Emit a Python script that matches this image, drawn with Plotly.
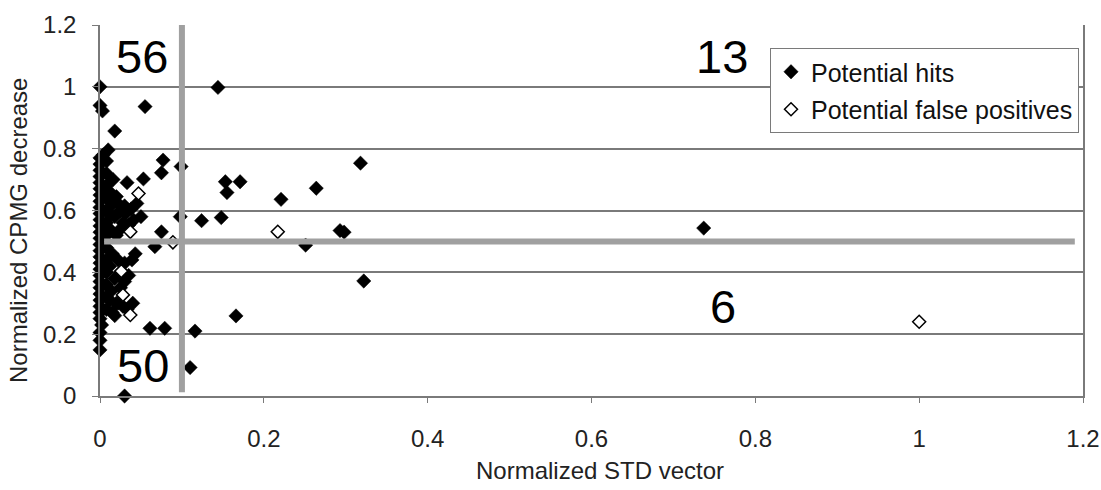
import plotly.graph_objects as go

# Potential hits (filled diamonds)
hit_x = [
    0.000, 0.000, 0.003, 0.055, 0.018, 0.010, 0.004, 0.077, 0.075, 0.099,
    0.033, 0.053, 0.045, 0.022, 0.031, 0.041, 0.035, 0.075, 0.098,
    0.000, 0.000, 0.000, 0.000, 0.000, 0.000, 0.000, 0.000, 0.000, 0.000,
    0.000, 0.000, 0.000, 0.000,
    0.008, 0.008, 0.008, 0.008, 0.008, 0.008, 0.008,
    0.012, 0.015, 0.018, 0.012, 0.020, 0.025, 0.028, 0.020, 0.016, 0.025,
    0.030, 0.012, 0.050, 0.038,
    0.067, 0.039, 0.043, 0.030, 0.022, 0.061, 0.079, 0.030, 0.000, 0.000,
    0.000, 0.002, 0.000,
    0.000, 0.000, 0.000, 0.000, 0.000, 0.000, 0.000, 0.000, 0.000, 0.000,
    0.000, 0.000,
    0.008, 0.008, 0.008, 0.008, 0.008, 0.008,
    0.015, 0.012, 0.018, 0.014, 0.020, 0.015, 0.025, 0.030, 0.022, 0.028,
    0.012, 0.018, 0.035, 0.040, 0.033,
    0.144, 0.318, 0.153, 0.171, 0.155, 0.264, 0.221, 0.124, 0.148, 0.293,
    0.298, 0.737,
    0.251, 0.322, 0.116, 0.166, 0.110,
]
hit_y = [
    1.000, 0.940, 0.922, 0.936, 0.857, 0.796, 0.780, 0.763, 0.722, 0.742,
    0.690, 0.702, 0.623, 0.623, 0.590, 0.569, 0.553, 0.531, 0.580,
    0.770, 0.750, 0.730, 0.710, 0.690, 0.670, 0.650, 0.630, 0.610, 0.590,
    0.570, 0.550, 0.530, 0.510,
    0.760, 0.720, 0.680, 0.640, 0.600, 0.560, 0.520,
    0.660, 0.620, 0.580, 0.540, 0.520, 0.600, 0.560, 0.645, 0.700, 0.540,
    0.615, 0.585, 0.580, 0.605,
    0.483, 0.440, 0.460, 0.430, 0.300, 0.219, 0.219, 0.000, 0.149, 0.180,
    0.205, 0.230, 0.250,
    0.270, 0.290, 0.310, 0.330, 0.350, 0.370, 0.390, 0.410, 0.430, 0.450,
    0.470, 0.490,
    0.280, 0.320, 0.360, 0.400, 0.440, 0.480,
    0.460, 0.420, 0.380, 0.340, 0.300, 0.270, 0.350, 0.370, 0.440, 0.290,
    0.310, 0.260, 0.390, 0.300, 0.280,
    0.998, 0.753, 0.693, 0.693, 0.658, 0.672, 0.636, 0.567, 0.577, 0.535,
    0.530, 0.543,
    0.488, 0.372, 0.210, 0.259, 0.092,
]

# Potential false positives (open diamonds)
fp_x = [0.047, 0.037, 0.089, 0.026, 0.028, 0.037, 0.217, 1.000]
fp_y = [0.655, 0.531, 0.497, 0.404, 0.327, 0.262, 0.531, 0.240]

# Quadrant thresholds and counts
thresh_x = 0.1
thresh_y = 0.5
quad_labels = ["56", "13", "50", "6"]
quad_x = [0.051, 0.759, 0.053, 0.761]
quad_y = [1.098, 1.098, 0.100, 0.290]

axis_ticks = [0, 0.2, 0.4, 0.6, 0.8, 1, 1.2]
tick_text = ["0", "0.2", "0.4", "0.6", "0.8", "1", "1.2"]

FONT = "Arial, 'Liberation Sans', sans-serif"
GRID = "#7a7a7a"
TXT = "#222"

# Plot-area geometry in pixels (used for placing the axis titles)
PLOT_L, PLOT_R, PLOT_T, PLOT_B = 100, 1083, 25, 396
PW, PH = PLOT_R - PLOT_L, PLOT_B - PLOT_T

fig = go.Figure()

fig.add_trace(go.Scatter(
    x=hit_x, y=hit_y, mode="markers", name="Potential hits",
    marker=dict(symbol="diamond", size=11, color="black",
                line=dict(color="black", width=0.5)),
    cliponaxis=False, legendgroup="a",
))
fig.add_trace(go.Scatter(
    x=fp_x, y=fp_y, mode="markers", name="Potential false positives",
    marker=dict(symbol="diamond", size=10, color="white",
                line=dict(color="black", width=1.5)),
    cliponaxis=False, legendgroup="b",
))

# Threshold lines drawn over the markers
fig.add_shape(type="line", x0=thresh_x, x1=thresh_x, y0=0.012, y1=1.2,
              xref="x", yref="y", line=dict(color="#a0a0a0", width=6),
              layer="above")
fig.add_shape(type="line", x0=0.005, x1=1.19, y0=thresh_y, y1=thresh_y,
              xref="x", yref="y", line=dict(color="#a0a0a0", width=6),
              layer="above")

for t, ax, ay in zip(quad_labels, quad_x, quad_y):
    fig.add_annotation(x=ax, y=ay, xref="x", yref="y", text=t,
                       showarrow=False, xanchor="center", yanchor="middle",
                       font=dict(family=FONT, size=47, color="black"))

# Axis titles
fig.add_annotation(
    xref="paper", yref="paper",
    x=(600 - PLOT_L) / PW, y=(PLOT_B - 470) / PH,
    text="Normalized STD vector", showarrow=False,
    xanchor="center", yanchor="middle",
    font=dict(family=FONT, size=24, color=TXT))
fig.add_annotation(
    xref="paper", yref="paper",
    x=(18 - PLOT_L) / PW, y=(PLOT_B - 231) / PH,
    text="Normalized CPMG decrease", showarrow=False, textangle=-90,
    xanchor="center", yanchor="middle",
    font=dict(family=FONT, size=24, color=TXT))

fig.update_layout(
    width=1101, height=490,
    margin=dict(l=PLOT_L, r=1101 - PLOT_R, t=PLOT_T, b=490 - PLOT_B),
    paper_bgcolor="white", plot_bgcolor="white",
    font=dict(family=FONT, size=24, color=TXT),
    showlegend=True,
    legend=dict(x=0.6816, y=0.938, xanchor="left", yanchor="top",
                bgcolor="white", bordercolor=GRID, borderwidth=1,
                font=dict(family=FONT, size=25, color="#111"),
                traceorder="grouped", tracegroupgap=2,
                itemwidth=30),
    xaxis=dict(
        range=[0, 1.2], tickvals=axis_ticks, ticktext=tick_text,
        showgrid=False, zeroline=False,
        showline=True, linecolor=GRID, linewidth=1.5,
        ticks="outside", ticklen=5, tickcolor=GRID, tickwidth=1,
        ticklabelstandoff=15,
        tickfont=dict(family=FONT, size=24, color=TXT),
        automargin=False,
    ),
    yaxis=dict(
        range=[0, 1.2], tickvals=axis_ticks, ticktext=tick_text,
        showgrid=True, gridcolor=GRID, gridwidth=1.5,
        zeroline=False,
        showline=True, linecolor=GRID, linewidth=1.5, mirror=True,
        ticks="outside", ticklen=6, tickcolor=GRID, tickwidth=1,
        ticklabelstandoff=11,
        tickfont=dict(family=FONT, size=24, color=TXT),
        automargin=False,
    ),
)

fig.write_html("out.html")
